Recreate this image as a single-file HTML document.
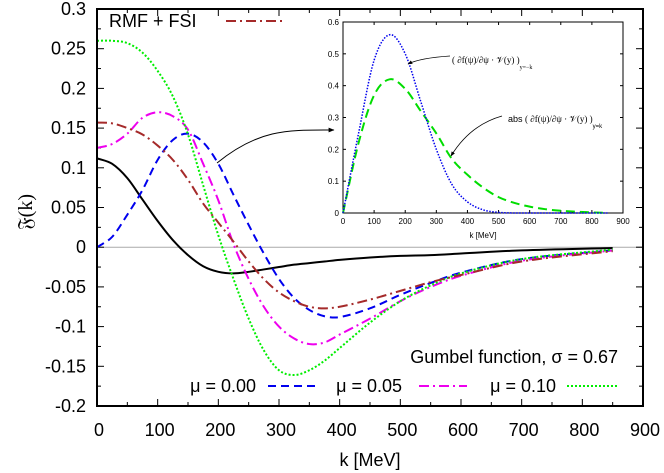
<!DOCTYPE html>
<html><head><meta charset="utf-8"><style>
body{margin:0;background:#fff}
svg{display:block;font-family:"Liberation Sans",sans-serif}
</style></head><body>
<svg id="c" width="664" height="473" xmlns="http://www.w3.org/2000/svg"></svg>
<script>
const kGrid=[0,25,50,75,100,125,150,175,200,225,250,275,300,325,350,375,400,450,500,550,600,700,850];
const muBlack=[0.112,0.105,0.087,0.06,0.033,0.009,-0.01,-0.024,-0.031,-0.033,-0.031,-0.028,-0.025,-0.022,-0.02,-0.018,-0.016,-0.013,-0.011,-0.01,-0.008,-0.004,-0.001];
const muBlue=[0.0,0.013,0.041,0.072,0.11,0.135,0.143,0.132,0.105,0.066,0.028,-0.008,-0.04,-0.064,-0.079,-0.087,-0.088,-0.077,-0.06,-0.045,-0.032,-0.015,-0.004];
const muMag=[0.125,0.13,0.143,0.163,0.17,0.165,0.148,0.105,0.059,0.004,-0.04,-0.075,-0.1,-0.115,-0.122,-0.12,-0.11,-0.09,-0.068,-0.05,-0.036,-0.017,-0.004];
const muGreen=[0.26,0.26,0.257,0.245,0.222,0.19,0.142,0.078,0.015,-0.04,-0.09,-0.13,-0.155,-0.161,-0.155,-0.143,-0.127,-0.095,-0.068,-0.048,-0.033,-0.015,-0.003];
const rmf=[0.157,0.156,0.15,0.142,0.128,0.11,0.085,0.055,0.031,0.007,-0.018,-0.04,-0.057,-0.068,-0.075,-0.077,-0.075,-0.066,-0.055,-0.044,-0.035,-0.018,-0.005];
const insetK=[0,50,100,150,200,250,300,350,400,450,500,550,600,650,700,750,800,850];
const insetBlue=[0,0.25,0.48,0.56,0.5,0.35,0.2,0.09,0.035,0.01,0.002,0,0,0,0,0,0,0];
const insetGreen=[0,0.22,0.37,0.42,0.39,0.32,0.25,0.17,0.12,0.08,0.05,0.032,0.02,0.012,0.007,0.004,0.002,0];
const xTicks=[0,100,200,300,400,500,600,700,800,900];
const yTicks=[-0.2,-0.15,-0.1,-0.05,0,0.05,0.1,0.15,0.2,0.25,0.3];
const yTickLabels=["-0.2","-0.15","-0.1","-0.05","0","0.05","0.1","0.15","0.2","0.25","0.3"];
const insetXTicks=[0,100,200,300,400,500,600,700,800,900];
const insetYTicks=[0,0.1,0.2,0.3,0.4,0.5,0.6];

const NS="http://www.w3.org/2000/svg",svg=document.getElementById('c');
function el(t,a,p){const e=document.createElementNS(NS,t);for(const k in a)e.setAttribute(k,a[k]);(p||svg).appendChild(e);return e;}
const L=97,R=643,T=9,B=406;
const X=v=>L+(v/900)*(R-L), Y=v=>B-(v+0.2)/0.5*(B-T);
const IL=343,IR=623,IT=22,IB=213;
const IX=v=>IL+(v/900)*(IR-IL), IY=v=>IB-(v/0.6)*(IB-IT);
function path(xs,ys,fx,fy){
  const p=xs.map((x,i)=>[fx(x),fy(ys[i])]);
  let d="M"+p[0][0]+","+p[0][1];
  for(let i=0;i<p.length-1;i++){
    const p0=p[Math.max(0,i-1)],p1=p[i],p2=p[i+1],p3=p[Math.min(p.length-1,i+2)];
    const h=p2[0]-p1[0];
    const m1=(p2[1]-p0[1])/((p2[0]-p0[0])||1), m2=(p3[1]-p1[1])/((p3[0]-p1[0])||1);
    d+=" C"+(p1[0]+h/3)+","+(p1[1]+m1*h/3)+" "+(p2[0]-h/3)+","+(p2[1]-m2*h/3)+" "+p2[0]+","+p2[1];
  }
  return d;
}
let z=el('line',{x1:L,x2:R,y1:Y(0),y2:Y(0),stroke:'#aaa','stroke-width':1});


for(let v=0;v<=900;v+=50){const len=v%100==0?7:4;
  el('line',{x1:X(v),x2:X(v),y1:B,y2:B-len,stroke:'#000'});
  el('line',{x1:X(v),x2:X(v),y1:T,y2:T+len,stroke:'#000'});}
for(let i=0;i<=20;i++){const v=-0.2+i*0.025;const len=i%2==0?7:4;
  el('line',{x1:L,x2:L+len,y1:Y(v),y2:Y(v),stroke:'#000'});
  el('line',{x1:R,x2:R-len,y1:Y(v),y2:Y(v),stroke:'#000'});}
xTicks.forEach(v=>{const t=el('text',{x:X(v)+2,y:436,'text-anchor':'middle','font-size':18});t.textContent=v;
  
  });
yTicks.forEach((v,i)=>{const t=el('text',{x:86,y:Y(v)+6,'text-anchor':'end','font-size':18});t.textContent=yTickLabels[i];
  
  });
let xt=el('text',{x:370,y:466,'text-anchor':'middle','font-size':18});xt.textContent="k [MeV]";


let yt=el('text',{x:0,y:0,'text-anchor':'middle','font-size':20,transform:'translate(32,212) rotate(-90)','font-family':'"Liberation Serif",serif'});yt.textContent="𝔉(k)";


const series=[
 [muBlack,'#000','',2,'curve-mu-000'],
 [muBlue,'#0000ee','8,5',2,'curve-mu-005'],
 [muMag,'#ee00ee','10,4,2,4',2,'curve-mu-010'],
 [muGreen,'#00ee00','2,2',2,'curve-green'],
 [rmf,'#a52a2a','10,4,2,4',2,'curve-rmf-fsi']];
series.forEach(s=>{const p=el('path',{d:path(kGrid,s[0],X,Y),fill:'none',stroke:s[1],'stroke-width':s[3],'stroke-dasharray':s[2]});
  
  });
let fr=el('rect',{x:L,y:T,width:R-L,height:B-T,fill:'none',stroke:'#000','stroke-width':2});


let ib=el('rect',{x:IL,y:IT,width:IR-IL,height:IB-IT,fill:'#fff',stroke:'#000','stroke-width':1});


insetXTicks.forEach(v=>{el('line',{x1:IX(v),x2:IX(v),y1:IB,y2:IB-3,stroke:'#000'});el('line',{x1:IX(v),x2:IX(v),y1:IT,y2:IT+3,stroke:'#000'});
  const t=el('text',{x:IX(v),y:IB+11,'text-anchor':'middle','font-size':8});t.textContent=v;
  
  });
insetYTicks.forEach(v=>{el('line',{x1:IL,x2:IL+3,y1:IY(v),y2:IY(v),stroke:'#000'});el('line',{x1:IR,x2:IR-3,y1:IY(v),y2:IY(v),stroke:'#000'});
  const t=el('text',{x:IL-4,y:IY(v)+3,'text-anchor':'end','font-size':8});t.textContent=v;
  
  });
let it=el('text',{x:483,y:238,'text-anchor':'middle','font-size':8});it.textContent="k [MeV]";


let ig=el('path',{d:path(insetK,insetGreen,IX,IY),fill:'none',stroke:'#00dd00','stroke-width':2,'stroke-dasharray':'9,5'});


let iblue=el('path',{d:path(insetK,insetBlue,IX,IY),fill:'none',stroke:'#0000ee','stroke-width':1.5,'stroke-dasharray':'1.5,1.5'});


el('defs',{}).innerHTML='<marker id="ah" viewBox="0 0 10 10" refX="9" refY="5" markerWidth="6" markerHeight="6" orient="auto"><path d="M0,1 L10,5 L0,9 z" fill="#000"/></marker>';
let a1=el('path',{d:'M450,56 Q420,58 408,64',fill:'none',stroke:'#000','stroke-width':0.8,'marker-end':'url(#ah)'});


let a2=el('path',{d:'M502,116 Q470,125 451,156',fill:'none',stroke:'#000','stroke-width':0.8,'marker-end':'url(#ah)'});


let t1=el('text',{x:452,y:63,'font-size':9,'font-family':'"Liberation Serif",serif'});t1.innerHTML='( ∂f(ψ)/∂ψ · 𝒱(y) )<tspan font-size="6" dy="6">y=−k</tspan>';


let t2=el('text',{x:508,y:122,'font-size':9});t2.innerHTML='abs <tspan font-family="Liberation Serif,serif">( ∂f(ψ)/∂ψ · 𝒱(y) )</tspan><tspan font-size="6" dy="6">y=k</tspan>';


let a3=el('path',{d:'M217,163 C260,128 290,130 334,130',fill:'none',stroke:'#000','stroke-width':1,'marker-end':'url(#ah)'});


function leg(tx,x,y,anchor,lx1,lx2,color,dash,name){
  const t=el('text',{x:x,y:y,'font-size':18,'text-anchor':anchor});t.textContent=tx;
  
  
  if(lx1!=null){const l=el('line',{x1:lx1,x2:lx2,y1:y-6,y2:y-6,stroke:color,'stroke-width':2,'stroke-dasharray':dash});
    
    }
}
leg("RMF + FSI",109,27,'start',226,283,'#a52a2a','10,4,2,4','legend-rmf-fsi');
leg("Gumbel function, σ = 0.67",618,363,'end',null,null,'','','legend-title');
leg("μ = 0.00",256,392,'end',null,null,'','','legend-mu-000');
leg("μ = 0.05",402,392,'end',268,320,'#0000ee','8,5','legend-mu-005');
leg("μ = 0.10",556,392,'end',419,467,'#ee00ee','10,4,2,4','legend-mu-010');
leg("",0,392,'start',567,618,'#00ee00','2,2','legend-green');
</script>
</body></html>
